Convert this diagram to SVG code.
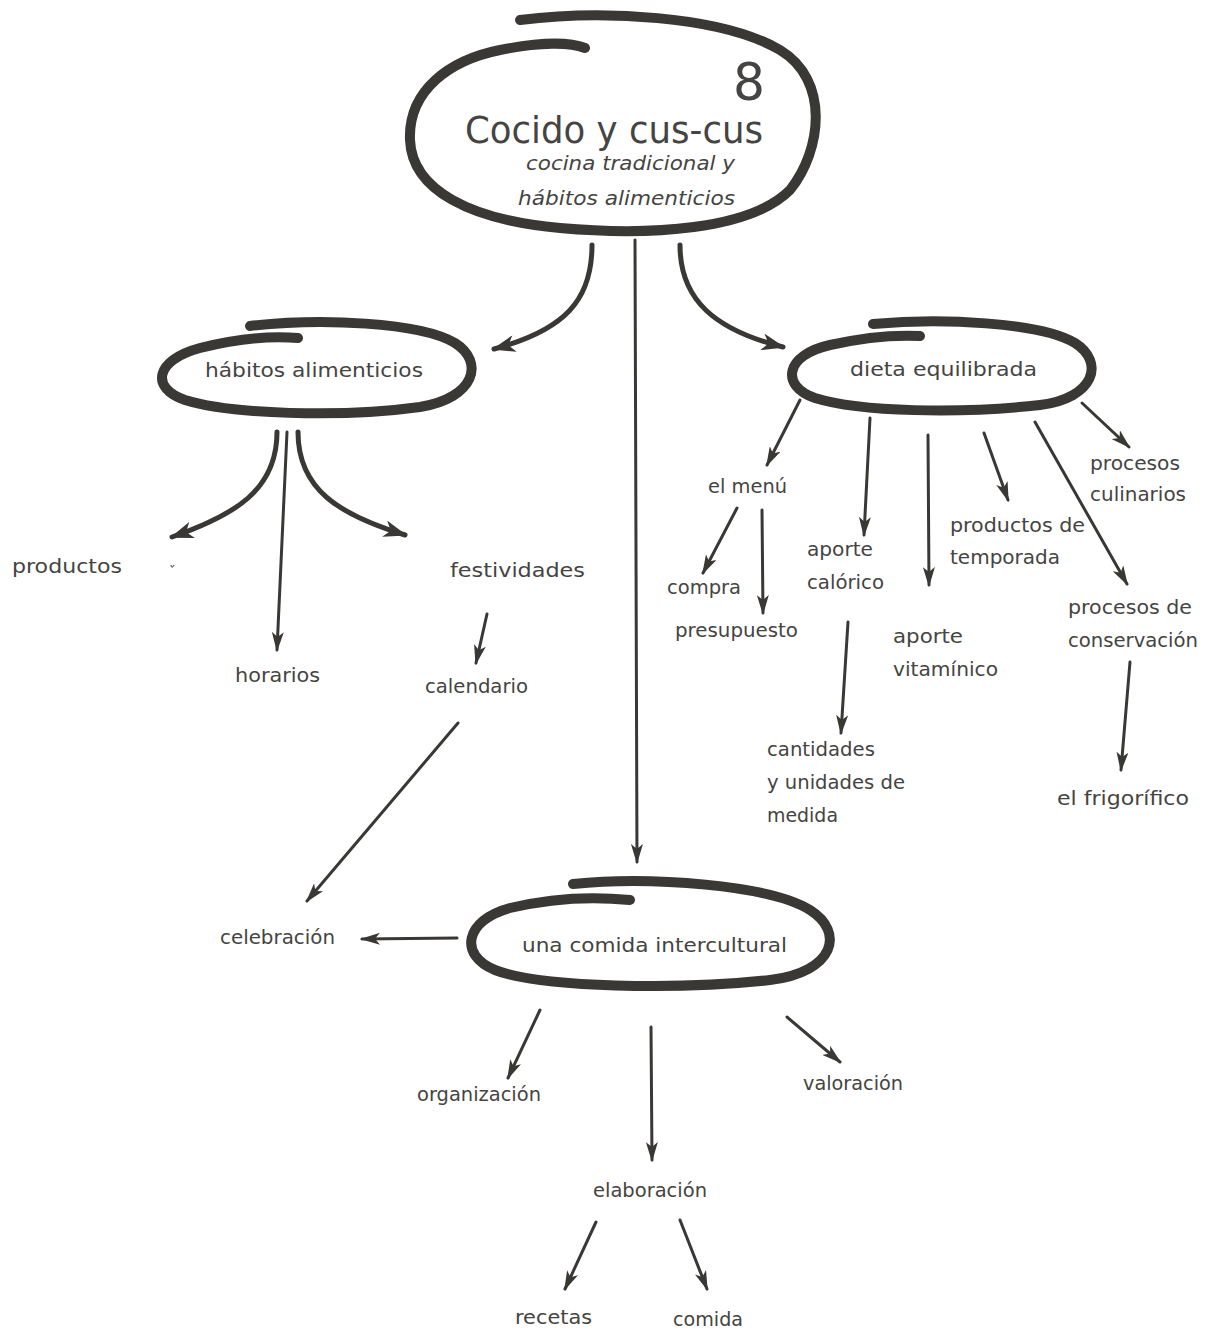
<svg xmlns="http://www.w3.org/2000/svg" width="1209" height="1334" viewBox="0 0 1209 1334">
<style>
.t{font-family:"DejaVu Sans","Liberation Sans",sans-serif;font-size:20px;fill:#454442}
.it{font-style:italic}
.loop{fill:none;stroke:#3a3835;stroke-width:10;stroke-linecap:round;stroke-linejoin:round}
.c{fill:none;stroke:#3a3835;stroke-width:3;stroke-linecap:round}
.cc{fill:none;stroke:#3a3835;stroke-width:5;stroke-linecap:round}
</style>
<defs>
<marker id="ah" viewBox="0 0 20 12" refX="18" refY="6" markerWidth="20" markerHeight="12" markerUnits="userSpaceOnUse" orient="auto">
<path d="M0,0 L20,6 L0,12 L5,6 z" fill="#3a3835"/>
</marker>
<marker id="ahb" viewBox="0 0 22 16" refX="20" refY="8" markerWidth="24" markerHeight="17" markerUnits="userSpaceOnUse" orient="auto">
<path d="M0,0 L22,8 L0,16 L6,8 z" fill="#3a3835"/>
</marker>
</defs>
<rect width="1209" height="1334" fill="#ffffff"/>

<g id="connectors">
<path class="cc" d="M592,245 C592,300 565,330 494,349" marker-end="url(#ahb)"/>
<path class="c" d="M635,240 L637,862" marker-end="url(#ah)"/>
<path class="cc" d="M680,245 C680,300 715,330 783,347" marker-end="url(#ahb)"/>
<path class="cc" d="M277,432 C277,490 235,515 172,537" marker-end="url(#ahb)"/>
<path class="c" d="M287,432 L277,650" marker-end="url(#ah)"/>
<path class="cc" d="M298,432 C298,490 340,515 405,535" marker-end="url(#ahb)"/>
<path class="c" d="M487,614 L476,663" marker-end="url(#ah)"/>
<path class="c" d="M458,723 L307,901" marker-end="url(#ah)"/>
<path class="c" d="M457,938 L362,939" marker-end="url(#ah)"/>
<path class="c" d="M540,1010 L508,1078" marker-end="url(#ah)"/>
<path class="c" d="M651,1027 L652,1160" marker-end="url(#ah)"/>
<path class="c" d="M787,1017 L840,1062" marker-end="url(#ah)"/>
<path class="c" d="M596,1222 L565,1289" marker-end="url(#ah)"/>
<path class="c" d="M680,1220 L707,1289" marker-end="url(#ah)"/>
<path class="c" d="M800,400 L767,465" marker-end="url(#ah)"/>
<path class="c" d="M737,508 L703,573" marker-end="url(#ah)"/>
<path class="c" d="M762,510 L763,613" marker-end="url(#ah)"/>
<path class="c" d="M870,418 L864,535" marker-end="url(#ah)"/>
<path class="c" d="M928,435 L929,585" marker-end="url(#ah)"/>
<path class="c" d="M984,433 L1008,500" marker-end="url(#ah)"/>
<path class="c" d="M1035,422 L1127,584" marker-end="url(#ah)"/>
<path class="c" d="M1082,403 L1129,447" marker-end="url(#ah)"/>
<path class="c" d="M848,622 L841,733" marker-end="url(#ah)"/>
<path class="c" d="M1130,662 L1121,770" marker-end="url(#ah)"/>
</g>

<g id="n-main">
<path class="loop" d="M520,20 C600,10 720,15 780,50 C830,80 822,150 790,190 C750,230 650,236 560,228 C470,220 412,190 410,140 C408,90 450,60 500,50 C540,42 570,42 585,48"/>
<text class="t" x="733" y="100" style="font-size:52px" textLength="32" lengthAdjust="spacingAndGlyphs">8</text>
<text class="t" x="465" y="143" style="font-size:38px" textLength="298" lengthAdjust="spacingAndGlyphs">Cocido y cus-cus</text>
<text class="t it" x="526" y="170" textLength="209" lengthAdjust="spacingAndGlyphs">cocina tradicional y</text>
<text class="t it" x="518" y="205" textLength="217" lengthAdjust="spacingAndGlyphs">hábitos alimenticios</text>
</g>

<g id="n-habitos">
<path class="loop" d="M250,326 C320,318 420,322 455,343 C485,362 475,398 420,407 C340,418 230,414 185,400 C150,388 155,360 200,348 C240,338 275,336 298,338"/>
<text class="t" x="205" y="377" textLength="218" lengthAdjust="spacingAndGlyphs">hábitos alimenticios</text>
</g>

<g id="n-dieta">
<path class="loop" d="M873,324 C940,318 1040,322 1075,343 C1105,362 1095,398 1040,405 C960,414 860,412 815,398 C780,386 785,355 830,345 C870,336 900,335 920,336"/>
<text class="t" x="850" y="376" textLength="187" lengthAdjust="spacingAndGlyphs">dieta equilibrada</text>
</g>

<g id="n-comida">
<path class="loop" d="M573,884 C650,876 770,885 810,910 C845,932 835,972 770,980 C680,990 540,988 495,970 C458,955 465,920 510,908 C560,896 600,897 630,900"/>
<text class="t" x="522" y="952" textLength="265" lengthAdjust="spacingAndGlyphs">una comida intercultural</text>
</g>

<g id="n-productos">
<text class="t" x="12" y="573" textLength="110" lengthAdjust="spacingAndGlyphs">productos</text>
<path d="M171,565 Q172,569 174,565" fill="none" stroke="#777" stroke-width="1.5"/>
</g>
<g id="n-horarios"><text class="t" x="235" y="682" textLength="85" lengthAdjust="spacingAndGlyphs">horarios</text></g>
<g id="n-festividades"><text class="t" x="450" y="577" textLength="135" lengthAdjust="spacingAndGlyphs">festividades</text></g>
<g id="n-calendario"><text class="t" x="425" y="693" textLength="103" lengthAdjust="spacingAndGlyphs">calendario</text></g>
<g id="n-celebracion"><text class="t" x="220" y="944" textLength="115" lengthAdjust="spacingAndGlyphs">celebración</text></g>
<g id="n-organizacion"><text class="t" x="417" y="1101" textLength="124" lengthAdjust="spacingAndGlyphs">organización</text></g>
<g id="n-elaboracion"><text class="t" x="593" y="1197" textLength="114" lengthAdjust="spacingAndGlyphs">elaboración</text></g>
<g id="n-valoracion"><text class="t" x="803" y="1090" textLength="100" lengthAdjust="spacingAndGlyphs">valoración</text></g>
<g id="n-recetas"><text class="t" x="515" y="1324" textLength="77" lengthAdjust="spacingAndGlyphs">recetas</text></g>
<g id="n-comida2"><text class="t" x="673" y="1326" textLength="70" lengthAdjust="spacingAndGlyphs">comida</text></g>
<g id="n-menu"><text class="t" x="708" y="493" textLength="79" lengthAdjust="spacingAndGlyphs">el menú</text></g>
<g id="n-compra"><text class="t" x="667" y="594" textLength="74" lengthAdjust="spacingAndGlyphs">compra</text></g>
<g id="n-presupuesto"><text class="t" x="675" y="637" textLength="123" lengthAdjust="spacingAndGlyphs">presupuesto</text></g>
<g id="n-calorico">
<text class="t" x="807" y="556" textLength="66" lengthAdjust="spacingAndGlyphs">aporte</text>
<text class="t" x="807" y="589" textLength="77" lengthAdjust="spacingAndGlyphs">calórico</text>
</g>
<g id="n-vitaminico">
<text class="t" x="893" y="643" textLength="70" lengthAdjust="spacingAndGlyphs">aporte</text>
<text class="t" x="893" y="676" textLength="105" lengthAdjust="spacingAndGlyphs">vitamínico</text>
</g>
<g id="n-temporada">
<text class="t" x="950" y="532" textLength="135" lengthAdjust="spacingAndGlyphs">productos de</text>
<text class="t" x="950" y="564" textLength="110" lengthAdjust="spacingAndGlyphs">temporada</text>
</g>
<g id="n-conservacion">
<text class="t" x="1068" y="614" textLength="124" lengthAdjust="spacingAndGlyphs">procesos de</text>
<text class="t" x="1068" y="647" textLength="130" lengthAdjust="spacingAndGlyphs">conservación</text>
</g>
<g id="n-culinarios">
<text class="t" x="1090" y="470" textLength="90" lengthAdjust="spacingAndGlyphs">procesos</text>
<text class="t" x="1090" y="501" textLength="96" lengthAdjust="spacingAndGlyphs">culinarios</text>
</g>
<g id="n-cantidades">
<text class="t" x="767" y="756" textLength="108" lengthAdjust="spacingAndGlyphs">cantidades</text>
<text class="t" x="767" y="789" textLength="138" lengthAdjust="spacingAndGlyphs">y unidades de</text>
<text class="t" x="767" y="822" textLength="71" lengthAdjust="spacingAndGlyphs">medida</text>
</g>
<g id="n-frigorifico"><text class="t" x="1057" y="805" textLength="132" lengthAdjust="spacingAndGlyphs">el frigorífico</text></g>
</svg>
